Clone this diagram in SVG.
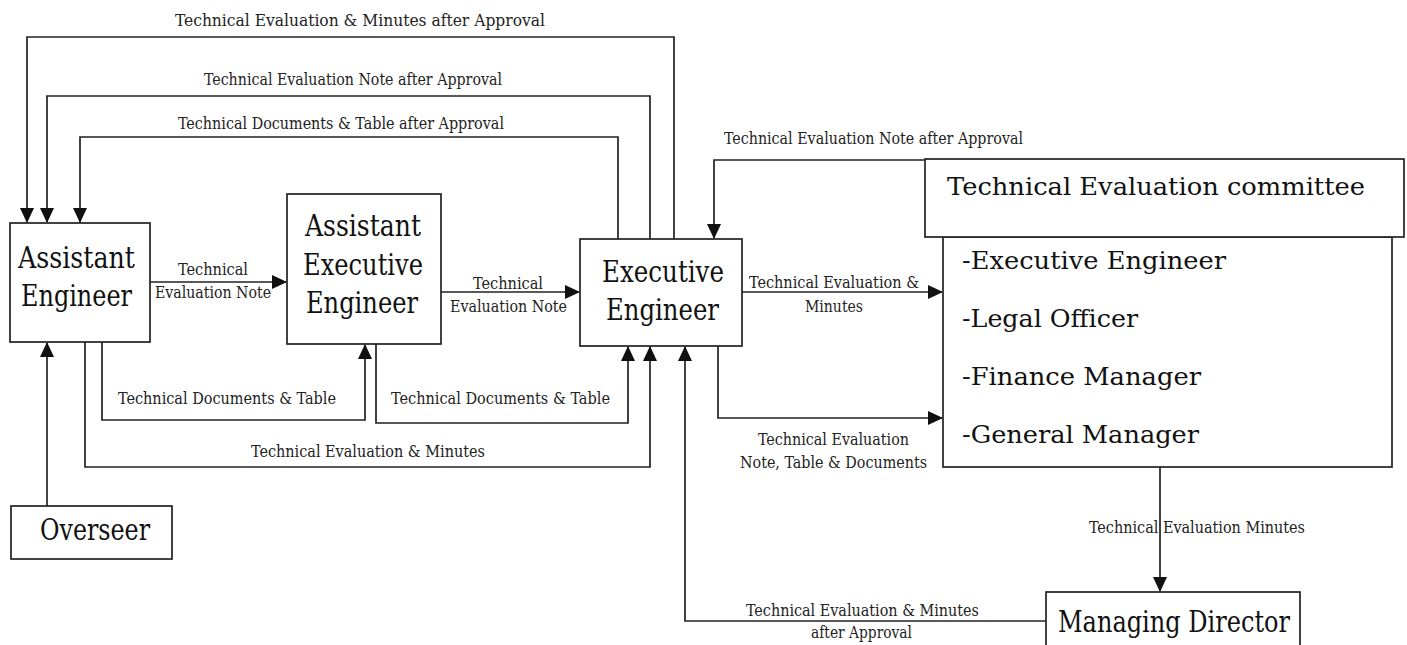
<svg xmlns="http://www.w3.org/2000/svg" width="1407" height="645" viewBox="0 0 1407 645">
<style>
.box{fill:#fff;stroke:#222;stroke-width:1.7}
.ln{fill:none;stroke:#222;stroke-width:1.7}
.lbl{font-family:"DejaVu Serif Condensed","DejaVu Serif","Liberation Serif",serif;font-stretch:condensed;font-size:17px;fill:#222}
.nd{font-family:"DejaVu Serif Condensed","DejaVu Serif","Liberation Serif",serif;font-stretch:condensed;font-size:30px;fill:#111}
.cm{font-family:"DejaVu Serif","Liberation Serif",serif;font-size:24px;fill:#111}
</style>
<defs>
<marker id="ah" markerUnits="userSpaceOnUse" markerWidth="15" markerHeight="14" refX="14" refY="7" orient="auto">
<path d="M0,0 L15,7 L0,14 z" fill="#111"/>
</marker>
</defs>
<rect width="1407" height="645" fill="#fff"/>
<g id="connectors">
<polyline class="ln" points="674,239 674,37 27,37 27,222" marker-end="url(#ah)"/>
<polyline class="ln" points="650,239 650,96 47,96 47,222" marker-end="url(#ah)"/>
<polyline class="ln" points="618,239 618,137 80,137 80,222" marker-end="url(#ah)"/>
<polyline class="ln" points="925,160 714,160 714,238" marker-end="url(#ah)"/>
<polyline class="ln" points="150,282 286,282" marker-end="url(#ah)"/>
<polyline class="ln" points="441,292 579,292" marker-end="url(#ah)"/>
<polyline class="ln" points="102,342 102,420 365,420 365,345" marker-end="url(#ah)"/>
<polyline class="ln" points="376,344 376,423 628,423 628,347" marker-end="url(#ah)"/>
<polyline class="ln" points="85,342 85,467 650,467 650,347" marker-end="url(#ah)"/>
<polyline class="ln" points="47,506 47,343" marker-end="url(#ah)"/>
<polyline class="ln" points="742,292 942,292" marker-end="url(#ah)"/>
<polyline class="ln" points="718,346 718,418 942,418" marker-end="url(#ah)"/>
<polyline class="ln" points="1160,467 1160,591" marker-end="url(#ah)"/>
<polyline class="ln" points="1046,621 685,621 685,347" marker-end="url(#ah)"/>
<text class="lbl" x="175" y="26" textLength="370" lengthAdjust="spacingAndGlyphs">Technical Evaluation &amp; Minutes after Approval</text>
<text class="lbl" x="204" y="85" textLength="298" lengthAdjust="spacingAndGlyphs">Technical Evaluation Note after Approval</text>
<text class="lbl" x="178" y="129" textLength="326" lengthAdjust="spacingAndGlyphs">Technical Documents &amp; Table after Approval</text>
<text class="lbl" x="724" y="144" textLength="299" lengthAdjust="spacingAndGlyphs">Technical Evaluation Note after Approval</text>
<text class="lbl" x="178" y="275" textLength="70" lengthAdjust="spacingAndGlyphs">Technical</text>
<text class="lbl" x="155" y="298" textLength="116" lengthAdjust="spacingAndGlyphs">Evaluation Note</text>
<text class="lbl" x="473" y="289" textLength="70" lengthAdjust="spacingAndGlyphs">Technical</text>
<text class="lbl" x="450" y="312" textLength="117" lengthAdjust="spacingAndGlyphs">Evaluation Note</text>
<text class="lbl" x="118" y="404" textLength="218" lengthAdjust="spacingAndGlyphs">Technical Documents &amp; Table</text>
<text class="lbl" x="391" y="404" textLength="219" lengthAdjust="spacingAndGlyphs">Technical Documents &amp; Table</text>
<text class="lbl" x="251" y="457" textLength="234" lengthAdjust="spacingAndGlyphs">Technical Evaluation &amp; Minutes</text>
<text class="lbl" x="749" y="288" textLength="170" lengthAdjust="spacingAndGlyphs">Technical Evaluation &amp;</text>
<text class="lbl" x="805" y="312" textLength="58" lengthAdjust="spacingAndGlyphs">Minutes</text>
<text class="lbl" x="758" y="445" textLength="151" lengthAdjust="spacingAndGlyphs">Technical Evaluation</text>
<text class="lbl" x="740" y="468" textLength="187" lengthAdjust="spacingAndGlyphs">Note, Table &amp; Documents</text>
<text class="lbl" x="1089" y="533" textLength="216" lengthAdjust="spacingAndGlyphs">Technical Evaluation Minutes</text>
<text class="lbl" x="746" y="616" textLength="233" lengthAdjust="spacingAndGlyphs">Technical Evaluation &amp; Minutes</text>
<text class="lbl" x="811" y="638" textLength="101" lengthAdjust="spacingAndGlyphs">after Approval</text>
</g>
<g id="assistant-engineer">
<rect class="box" x="10" y="223" width="140" height="119"/>
<text class="nd" x="18" y="268" textLength="117" lengthAdjust="spacingAndGlyphs">Assistant</text>
<text class="nd" x="21" y="306" textLength="111" lengthAdjust="spacingAndGlyphs">Engineer</text>
</g>
<g id="assistant-executive-engineer">
<rect class="box" x="287" y="194" width="154" height="150"/>
<text class="nd" x="305" y="236" textLength="116" lengthAdjust="spacingAndGlyphs">Assistant</text>
<text class="nd" x="303" y="275" textLength="120" lengthAdjust="spacingAndGlyphs">Executive</text>
<text class="nd" x="306" y="313" textLength="112" lengthAdjust="spacingAndGlyphs">Engineer</text>
</g>
<g id="executive-engineer">
<rect class="box" x="580" y="239" width="162" height="107"/>
<text class="nd" x="602" y="282" textLength="122" lengthAdjust="spacingAndGlyphs">Executive</text>
<text class="nd" x="606" y="320" textLength="113" lengthAdjust="spacingAndGlyphs">Engineer</text>
</g>
<g id="overseer">
<rect class="box" x="11" y="506" width="161" height="53"/>
<text class="nd" x="40" y="540" textLength="110" lengthAdjust="spacingAndGlyphs">Overseer</text>
</g>
<g id="technical-evaluation-committee">
<rect class="box" x="943" y="237" width="449" height="230"/>
<rect class="box" x="925" y="159" width="479" height="78"/>
<text class="cm" x="947" y="195" textLength="418" lengthAdjust="spacingAndGlyphs">Technical Evaluation committee</text>
<text class="cm" x="962" y="269" textLength="264" lengthAdjust="spacingAndGlyphs">-Executive Engineer</text>
<text class="cm" x="962" y="327" textLength="176" lengthAdjust="spacingAndGlyphs">-Legal Officer</text>
<text class="cm" x="962" y="385" textLength="239" lengthAdjust="spacingAndGlyphs">-Finance Manager</text>
<text class="cm" x="962" y="443" textLength="237" lengthAdjust="spacingAndGlyphs">-General Manager</text>
</g>
<g id="managing-director">
<rect class="box" x="1046" y="592" width="254" height="60"/>
<text class="nd" x="1058" y="632" textLength="232" lengthAdjust="spacingAndGlyphs">Managing Director</text>
</g>
</svg>
